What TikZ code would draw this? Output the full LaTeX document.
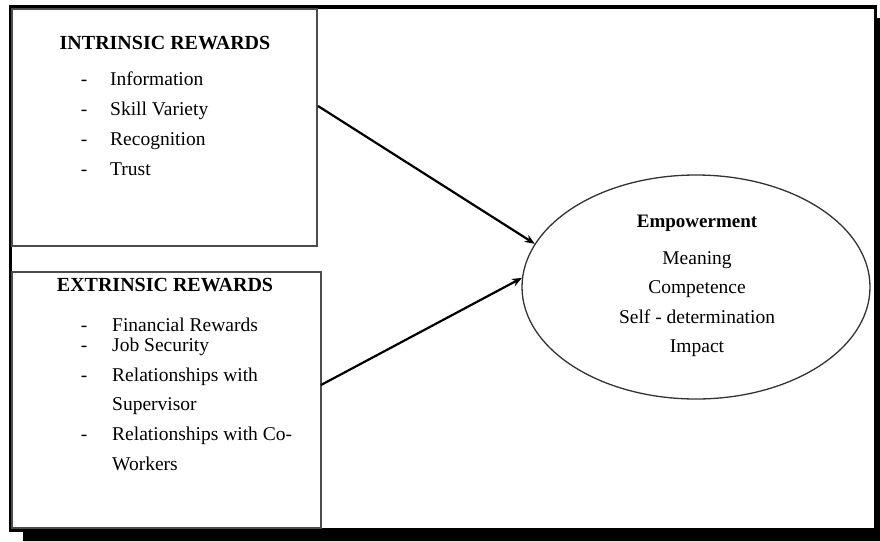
\documentclass[tikz,border=0pt]{standalone}
\usepackage{fontspec}
\setmainfont{Liberation Serif}
\usetikzlibrary{shapes.geometric,arrows.meta}
\begin{document}
\begin{tikzpicture}[x=1pt,y=-1pt,
  box/.style={draw=black!70,line width=1.4pt,inner sep=0pt},
  txt/.style={inner sep=0pt,font=\fontsize{19.5}{22}\selectfont,
    text height=0.7em,text depth=0.2em,anchor=west,yshift=-3pt},
  dashmark/.style={txt,anchor=center},
  head/.style={inner sep=0pt,font=\fontsize{20}{22}\selectfont\bfseries,
    text height=0.7em,text depth=0.2em,anchor=center,yshift=-3pt},
  ctr/.style={txt,anchor=center},
  arr/.style={-{Stealth[length=10pt,width=8pt]},line width=2.2pt}
]
\useasboundingbox (0,0) rectangle (880,541);

% page frame with its drop shadow
\fill[black] (877,18) -- (880,18) -- (880,541) -- (23,541) -- (23,532) -- (877,532) -- cycle;
\draw[line width=3.8pt] (10.5,7) rectangle (875.5,530);

% the two reward boxes
\node[box,minimum width=305pt,minimum height=237pt] (intr) at (164.5,127.5) {};
\node[box,minimum width=309pt,minimum height=256pt] (extr) at (166.5,400) {};

% the outcome
\node[draw=black!80,line width=1.3pt,ellipse,inner sep=0pt,
      minimum width=348pt,minimum height=224pt] (emp) at (696,287) {};

% intrinsic rewards
\node[head] (ih) at (165,44) {INTRINSIC REWARDS};
\node[dashmark] (id1) at (84,80) {-};
\node[txt] (i1) at (110,80) {Information};
\node[dashmark] (id2) at (84,110) {-};
\node[txt] (i2) at (110,110) {Skill Variety};
\node[dashmark] (id3) at (84,140) {-};
\node[txt] (i3) at (110,140) {Recognition};
\node[dashmark] (id4) at (84,170) {-};
\node[txt] (i4) at (110,170) {Trust};

% extrinsic rewards
\node[head] (eh) at (165,286) {EXTRINSIC REWARDS};
\node[dashmark] (ed1) at (84,326) {-};
\node[txt] (e1) at (112,326) {Financial Rewards};
\node[dashmark] (ed2) at (84,346) {-};
\node[txt] (e2) at (112,346) {Job Security};
\node[dashmark] (ed3) at (84,376) {-};
\node[txt] (e3) at (112,376) {Relationships with};
\node[txt] (e3b) at (112,405) {Supervisor};
\node[dashmark] (ed4) at (84,435) {-};
\node[txt] (e4) at (112,435) {Relationships with Co-};
\node[txt] (e4b) at (112,465) {Workers};

% empowerment dimensions
\node[head,font=\fontsize{19}{22}\selectfont\bfseries] (eh2) at (697,222) {Empowerment};
\node[ctr] (m1) at (697,259) {Meaning};
\node[ctr] (m2) at (697,288) {Competence};
\node[ctr] (m3) at (697,318) {Self - determination};
\node[ctr] (m4) at (697,347) {Impact};

% connectors
\coordinate (s1) at (318,106);
\coordinate (s2) at (321,385);
\draw[arr] (s1) -- (emp.165);
\draw[arr] (s2) -- (emp.177.4);
\end{tikzpicture}
\end{document}
